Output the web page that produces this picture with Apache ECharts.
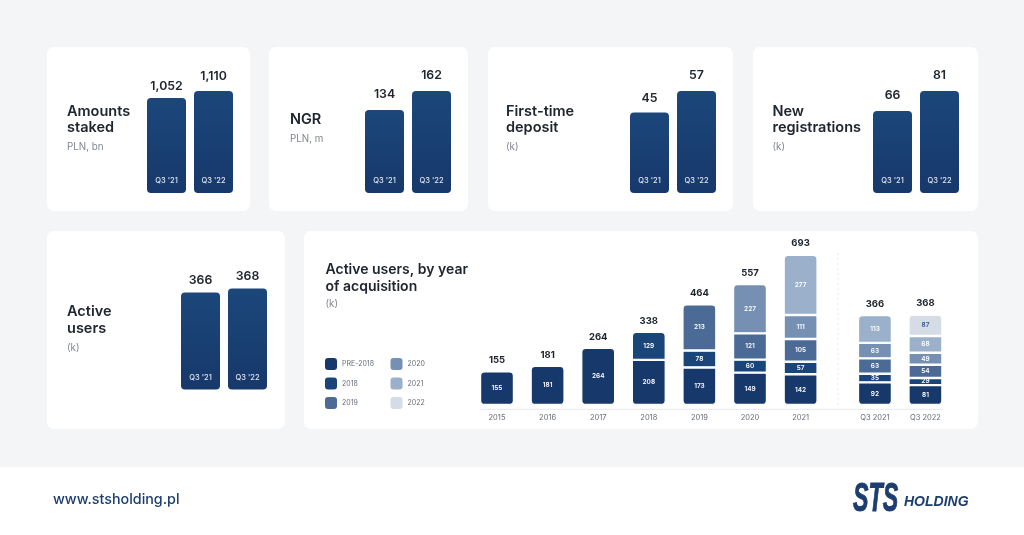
<!DOCTYPE html>
<html><head><meta charset="utf-8">
<style>html,body{margin:0;padding:0;background:#f4f5f7}#c{width:1024px;height:535px}</style>
<script src="https://cdn.jsdelivr.net/npm/echarts@6/dist/echarts.min.js"></script>
</head><body><div id="c"></div>
<script>
// ---- data ----
const periodLabels = ["Q3 '21", "Q3 '22"];
const amountsStaked = [1052, 1110];
const ngr = [134, 162];
const firstTimeDeposit = [45, 57];
const newRegistrations = [66, 81];
const activeUsers = [366, 368];

const yearCategories = ['2015','2016','2017','2018','2019','2020','2021'];
const quarterCategories = ['Q3 2021','Q3 2022'];
const cohortNames = ['PRE-2018','2018','2019','2020','2021','2022'];
const cohortColors = ['#17386b','#1a4579','#4b6a96','#7590b3','#9bb0ca','#d5dce6'];

const yearPre2018 = [155,181,264,208,173,149,142];
const year2018    = [null,null,null,129,78,60,57];
const year2019    = [null,null,null,null,213,121,105];
const year2020    = [null,null,null,null,null,227,111];
const year2021    = [null,null,null,null,null,null,277];
const yearTotals  = [155,181,264,338,464,557,693];

const quarterPre2018 = [92,81];
const quarter2018    = [35,29];
const quarter2019    = [63,54];
const quarter2020    = [63,49];
const quarter2021    = [113,68];
const quarter2022    = [null,87];
const quarterTotals  = [366,368];

// ---- layout / style ----
const FONT = 'Inter, "Noto Sans", sans-serif';
const INK = '#20262f', GREY = '#80858f';

const cardRects = [[47,47,203,164],[269,47,199,164],[488,47,245,164],[753,47,225,164],[47,231,238,198],[304,231,674,198]];
const headings = [
  {x:67,  size:14.5, lines:['Amounts','staked'], ys:[112,128], sub:'PLN, bn', subY:147.5},
  {x:290, size:14.5, lines:['NGR'], ys:[120], sub:'PLN, m', subY:139},
  {x:506, size:14.5, lines:['First-time','deposit'], ys:[112,128], sub:'(k)', subY:147.5},
  {x:772.5, size:14.5, lines:['New','registrations'], ys:[112,128], sub:'(k)', subY:147.5},
  {x:67,  size:14.5, lines:['Active','users'], ys:[312,329], sub:'(k)', subY:348},
  {x:325.5, size:14, lines:['Active users, by year','of acquisition'], ys:[270,286.5], sub:'(k)', subY:304.5}
];
const smallCards = [
  {values:amountsStaked,    left:143, top:91,  bottom:193, min:265, gaps:[6,9]},
  {values:ngr,              left:361, top:91,  bottom:193, min:12, gaps:[10,9.5]},
  {values:firstTimeDeposit, left:626, top:91,  bottom:193, min:0, gaps:[8.5,9.5]},
  {values:newRegistrations, left:869, top:91,  bottom:193, min:4.5, gaps:[10,9.5]},
  {values:activeUsers,      left:177, top:288.5, bottom:389.5, min:317, gaps:[6,6]}
];

const grids=[], xAxes=[], yAxes=[], series=[];

smallCards.forEach((c,i)=>{
  grids.push({left:c.left, top:c.top, width:94, height:c.bottom-c.top});
  xAxes.push({type:'category', gridIndex:i, data:periodLabels, z:10,
    axisLine:{show:false}, axisTick:{show:false},
    axisLabel:{inside:true, interval:0, margin:8, color:'#dfe6f0', fontFamily:FONT, fontSize:7.5, fontWeight:500}});
  yAxes.push({type:'value', gridIndex:i, min:c.min, max:Math.max(...c.values), show:false, splitLine:{show:false}});
  series.push({type:'bar', xAxisIndex:i, yAxisIndex:i, barWidth:39, silent:true,
    data:c.values.map((v,j)=>({value:v, label:{distance:c.gaps[j]}})),
    itemStyle:{borderRadius:4, color:{type:'linear',x:0,y:0,x2:0,y2:1,colorStops:[{offset:0,color:'#1b477b'},{offset:1,color:'#17386b'}]}},
    label:{show:true, position:'top', color:INK, fontFamily:FONT, fontSize:12.3, fontWeight:600,
      formatter:p=>p.value.toLocaleString('en-US')}});
});

function addStack(gi, cats, left, width, top, height, maxV, columns, totals, stackName){
  grids.push({left, top, width, height});
  xAxes.push({type:'category', gridIndex:gi, data:cats,
    axisLine:{show:false}, axisTick:{show:false},
    axisLabel:{interval:0, margin:9, color:'#666c78', fontFamily:FONT, fontSize:7.5}});
  yAxes.push({type:'value', gridIndex:gi, min:0, max:maxV, show:false, splitLine:{show:false}});
  columns.forEach((col,k)=>{
    const data = col.map((v,j)=>{
      if(v==null) return null;
      const lower = columns.slice(0,k).some(c=>c[j]!=null);
      const upper = columns.slice(k+1).some(c=>c[j]!=null);
      return {value:v, itemStyle:{borderRadius:[upper?0:4, upper?0:4, lower?0:4, lower?0:4]}};
    });
    series.push({type:'bar', name:cohortNames[k], stack:stackName, xAxisIndex:gi, yAxisIndex:gi,
      data, barWidth:34, silent:true,
      itemStyle:{color:cohortColors[k], borderColor:'#ffffff', borderWidth:1.2},
      label:{show:true, position:'inside', color:k===5?'#2f5a94':'#ffffff', fontFamily:FONT, fontSize:6.5, fontWeight:600}});
  });
  series.push({type:'line', xAxisIndex:gi, yAxisIndex:gi, data:totals, silent:true,
    symbol:'circle', symbolSize:1, itemStyle:{color:'rgba(0,0,0,0)'}, lineStyle:{width:0, opacity:0},
    z:6,
    label:{show:true, position:'top', distance:5.5, color:INK, fontFamily:FONT, fontSize:9.5, fontWeight:700}});
}
addStack(5, yearCategories, 471.7, 354.2, 254.6, 150.4, 693,
  [yearPre2018,year2018,year2019,year2020,year2021], yearTotals, 'years');
addStack(6, quarterCategories, 849.7, 101, 314.6, 90.4, 368,
  [quarterPre2018,quarter2018,quarter2019,quarter2020,quarter2021,quarter2022], quarterTotals, 'quarters');

const graphics = [];
cardRects.forEach(r=>graphics.push({type:'rect', z:-10, shape:{x:r[0],y:r[1],width:r[2],height:r[3],r:7}, style:{fill:'#ffffff'}}));
graphics.push({type:'rect', z:-10, shape:{x:0,y:467,width:1024,height:68}, style:{fill:'#ffffff'}});
headings.forEach(h=>{
  h.lines.forEach((t,i)=>graphics.push({type:'text', z:1, x:h.x, y:h.ys[i],
    style:{text:t, fill:INK, font:`600 ${h.size}px ${FONT}`, verticalAlign:'middle'}}));
  graphics.push({type:'text', z:1, x:h.x, y:h.subY,
    style:{text:h.sub, fill:GREY, font:`400 9.8px ${FONT}`, verticalAlign:'middle'}});
});
graphics.push({type:'line', z:1, shape:{x1:480,y1:409.3,x2:943,y2:409.3}, style:{stroke:'#e6e8ec', lineWidth:1}});
graphics.push({type:'line', z:1, shape:{x1:838,y1:253,x2:838,y2:405}, style:{stroke:'#dfe2e7', lineWidth:0.8, lineDash:[2,3]}});
graphics.push({type:'text', z:1, x:53, y:500, style:{text:'www.stsholding.pl', fill:'#1c3d6e', font:`500 14.3px ${FONT}`, verticalAlign:'middle'}});
graphics.push({type:'text', z:1, x:853, y:499.5, scaleX:0.58,
  style:{text:'STS', fill:'#1c3d6e', stroke:'#1c3d6e', lineWidth:1, font:`italic 700 40px "Liberation Sans",sans-serif`, verticalAlign:'middle'}});
graphics.push({type:'text', z:1, x:904, y:502, style:{text:'HOLDING', fill:'#1c3d6e', font:`italic 700 14px "Liberation Sans",sans-serif`, verticalAlign:'middle'}});

const legendBase = {orient:'vertical', top:358, itemWidth:12, itemHeight:12, itemGap:7.5, icon:'roundRect',
  selectedMode:false, itemStyle:{borderWidth:0}, textStyle:{color:'#666c78', fontFamily:FONT, fontSize:7}, padding:0};

const chart = echarts.init(document.getElementById('c'), null, {renderer:'canvas'});
chart.setOption({
  animation:false,
  backgroundColor:'#f4f5f7',
  grid:grids, xAxis:xAxes, yAxis:yAxes, series,
  legend:[
    Object.assign({}, legendBase, {left:325, data:cohortNames.slice(0,3)}),
    Object.assign({}, legendBase, {left:390.5, data:cohortNames.slice(3)})
  ],
  graphic:{elements:graphics}
});
</script></body></html>
